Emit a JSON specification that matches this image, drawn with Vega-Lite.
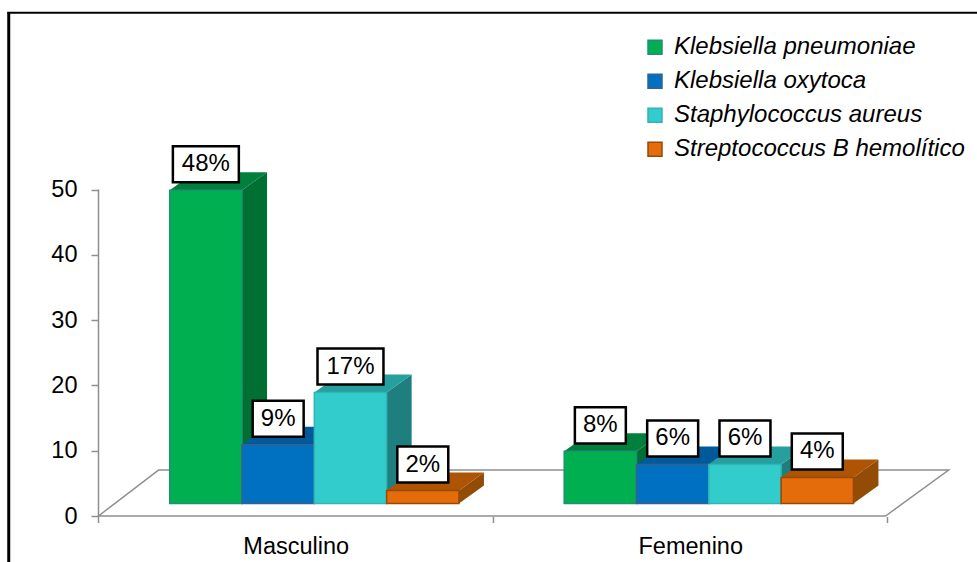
{
  "$schema": "https://vega.github.io/schema/vega-lite/v6.json",
  "width": 977,
  "height": 562,
  "padding": 0,
  "autosize": {"type": "none"},
  "background": "white",
  "config": {
    "view": {"stroke": null},
    "font": "Liberation Sans",
    "axis": {"grid": false, "domain": false, "title": null, "labelFont": "Liberation Sans", "labelFontSize": 23.5, "labelColor": "#000000", "tickColor": "#8f8f8f", "tickWidth": 1.5}
  },
  "data": {
    "values": [
      {"sexo": "Masculino", "especie": "Klebsiella pneumoniae", "valor": 48},
      {"sexo": "Masculino", "especie": "Klebsiella oxytoca", "valor": 9},
      {"sexo": "Masculino", "especie": "Staphylococcus aureus", "valor": 17},
      {"sexo": "Masculino", "especie": "Streptococcus B hemolítico", "valor": 2},
      {"sexo": "Femenino", "especie": "Klebsiella pneumoniae", "valor": 8},
      {"sexo": "Femenino", "especie": "Klebsiella oxytoca", "valor": 6},
      {"sexo": "Femenino", "especie": "Staphylococcus aureus", "valor": 6},
      {"sexo": "Femenino", "especie": "Streptococcus B hemolítico", "valor": 4}
    ]
  },
  "transform": [
    {"calculate": "datum.sexo === 'Masculino' ? 0 : 1", "as": "grupo"},
    {"calculate": "indexof(['Klebsiella pneumoniae','Klebsiella oxytoca','Staphylococcus aureus','Streptococcus B hemolítico'], datum.especie)", "as": "serie"},
    {"calculate": "datum.grupo + 0.1805 + 0.1833 * datum.serie", "as": "x0"},
    {"calculate": "datum.x0 + 0.1833", "as": "x1"},
    {"calculate": "datum.sexo + datum.serie", "as": "barra"},
    {"calculate": "datum.valor + '%'", "as": "etiqueta"},
    {"calculate": "(datum.x0 + datum.x1) / 2", "as": "centro"},
    {"calculate": "1.9", "as": "base"},
    {"calculate": "datum.valor + datum.base", "as": "cima"},
    {"calculate": "datum.cima + 3.98", "as": "etiquetaY"},
    {"calculate": "datum.etiquetaY - 2.76", "as": "cajaY0"},
    {"calculate": "datum.etiquetaY + 2.76", "as": "cajaY1"},
    {"calculate": "datum.centro - (datum.valor >= 10 ? 0.0836 : 0.0646)", "as": "cajaX0"},
    {"calculate": "datum.centro + (datum.valor >= 10 ? 0.0836 : 0.0646)", "as": "cajaX1"}
  ],
  "layer": [
    {
      "description": "Chart frame, left edge",
      "data": {"values": [{}]},
      "transform": [],
      "mark": {"type": "rule", "color": "#000000", "strokeWidth": 3},
      "encoding": {
        "x": {"datum": -0.2275, "type": "quantitative", "scale": {"domain": [-0.24968, 2.2269], "nice": false, "zero": false}, "axis": {"orient": "bottom", "offset": -45.5, "values": [0, 0.5, 1, 1.5, 2], "tickSize": 6, "labelPadding": 12, "labelExpr": "datum.value === 0.5 ? 'Masculino' : datum.value === 1.5 ? 'Femenino' : ''", "tickOpacity": {"condition": {"test": "datum.value === 0.5 || datum.value === 1.5", "value": 0}, "value": 1}}},
        "y": {"datum": 77.05, "type": "quantitative", "scale": {"domain": [-7.044, 79.02], "nice": false, "zero": false}, "axis": {"orient": "left", "offset": -98.5, "values": [0, 10, 20, 30, 40, 50], "tickSize": 7.5, "labelPadding": 14}},
        "y2": {"datum": -7.044}
      }
    },
    {
      "description": "Chart frame, top edge",
      "data": {"values": [{}]},
      "mark": {"type": "rule", "color": "#000000", "strokeWidth": 2},
      "encoding": {
        "x": {"datum": -0.2315, "type": "quantitative"},
        "x2": {"datum": 2.2269},
        "y": {"datum": 77.05, "type": "quantitative"}
      }
    },
    {
      "description": "Chart floor in perspective",
      "data": {"values": [{"fondo": 0}, {"fondo": 1}]},
      "transform": [
        {"calculate": "datum.fondo * 0.152", "as": "xa"},
        {"calculate": "1.995 + datum.fondo * 0.16", "as": "xb"},
        {"calculate": "datum.fondo * 7.04", "as": "yf"}
      ],
      "mark": {"type": "area", "orient": "horizontal", "fill": "white", "stroke": "#8f8f8f", "strokeWidth": 1.5},
      "encoding": {
        "y": {"field": "yf", "type": "quantitative"},
        "x": {"field": "xa", "type": "quantitative", "stack": null},
        "x2": {"field": "xb"}
      }
    },
    {
      "description": "Value axis line",
      "data": {"values": [{}]},
      "mark": {"type": "rule", "color": "#8f8f8f", "strokeWidth": 1.5},
      "encoding": {
        "x": {"datum": 0, "type": "quantitative"},
        "y": {"datum": 50, "type": "quantitative"},
        "y2": {"datum": 0}
      }
    },
    {
      "description": "Right-hand face of each bar",
      "transform": [
        {"calculate": "[0,1]", "as": "t"},
        {"flatten": ["t"]},
        {"calculate": "datum.x1 + datum.t * 0.0634", "as": "xs"},
        {"calculate": "datum.cima + datum.t * 2.76", "as": "ys1"},
        {"calculate": "datum.base + datum.t * 2.76", "as": "ys0"}
      ],
      "mark": {"type": "area", "orient": "vertical"},
      "encoding": {
        "x": {"field": "xs", "type": "quantitative"},
        "y": {"field": "ys1", "type": "quantitative", "stack": null},
        "y2": {"field": "ys0"},
        "detail": {"field": "barra"},
        "fill": {"field": "especie", "type": "nominal", "legend": null, "scale": {"domain": ["Klebsiella pneumoniae", "Klebsiella oxytoca", "Staphylococcus aureus", "Streptococcus B hemolítico"], "range": ["#006F32", "#004F88", "#1F7F7F", "#934C06"]}}
      }
    },
    {
      "description": "Top face of each bar",
      "transform": [
        {"calculate": "[0,1]", "as": "t"},
        {"flatten": ["t"]},
        {"calculate": "datum.x0 + datum.t * 0.0634", "as": "xt0"},
        {"calculate": "datum.x1 + datum.t * 0.0634", "as": "xt1"},
        {"calculate": "datum.cima + datum.t * 2.76", "as": "yt"}
      ],
      "mark": {"type": "area", "orient": "horizontal"},
      "encoding": {
        "y": {"field": "yt", "type": "quantitative"},
        "x": {"field": "xt0", "type": "quantitative", "stack": null},
        "x2": {"field": "xt1"},
        "detail": {"field": "barra"},
        "fill": {"field": "especie", "type": "nominal", "legend": null, "scale": {"domain": ["Klebsiella pneumoniae", "Klebsiella oxytoca", "Staphylococcus aureus", "Streptococcus B hemolítico"], "range": ["#00803C", "#005A9A", "#269F9F", "#AE5405"]}}
      }
    },
    {
      "description": "Front face of each bar, with the species legend",
      "mark": {"type": "rect", "strokeWidth": 1.5},
      "encoding": {
        "x": {"field": "x0", "type": "quantitative"},
        "x2": {"field": "x1"},
        "y": {"field": "cima", "type": "quantitative"},
        "y2": {"field": "base"},
        "fill": {
          "field": "especie",
          "type": "nominal",
          "scale": {"domain": ["Klebsiella pneumoniae", "Klebsiella oxytoca", "Staphylococcus aureus", "Streptococcus B hemolítico"], "range": ["#00B050", "#0070C0", "#33CCCC", "#E46C0A"]},
          "legend": {"orient": "none", "legendX": 643, "legendY": 33.5, "title": null, "symbolType": "square", "symbolSize": 196, "symbolStrokeWidth": 1.5, "labelFont": "Liberation Sans", "labelFontSize": 24, "labelFontStyle": "italic", "labelColor": "#000000", "labelOffset": 7, "rowPadding": 6, "clipHeight": 27.4, "labelLimit": 320}
        },
        "stroke": {
          "field": "especie",
          "type": "nominal",
          "scale": {"domain": ["Klebsiella pneumoniae", "Klebsiella oxytoca", "Staphylococcus aureus", "Streptococcus B hemolítico"], "range": ["#1F8F78", "#376092", "#31B4B4", "#984807"]},
          "legend": {"orient": "none", "legendX": 643, "legendY": 33.5, "title": null, "symbolType": "square", "symbolSize": 196, "symbolStrokeWidth": 1.5, "labelFont": "Liberation Sans", "labelFontSize": 24, "labelFontStyle": "italic", "labelColor": "#000000", "labelOffset": 7, "rowPadding": 6, "clipHeight": 27.4, "labelLimit": 320}
        }
      }
    },
    {
      "description": "Boxes behind the percentage labels",
      "mark": {"type": "rect", "fill": "white", "stroke": "#000000", "strokeWidth": 2.5},
      "encoding": {
        "x": {"field": "cajaX0", "type": "quantitative"},
        "x2": {"field": "cajaX1"},
        "y": {"field": "cajaY0", "type": "quantitative"},
        "y2": {"field": "cajaY1"}
      }
    },
    {
      "description": "Percentage labels",
      "mark": {"type": "text", "font": "Liberation Sans", "fontSize": 24, "color": "#000000", "align": "center", "baseline": "middle"},
      "encoding": {
        "x": {"field": "centro", "type": "quantitative"},
        "y": {"field": "etiquetaY", "type": "quantitative"},
        "text": {"field": "etiqueta"}
      }
    }
  ],
  "resolve": {"scale": {"fill": "independent", "stroke": "independent"}}
}
